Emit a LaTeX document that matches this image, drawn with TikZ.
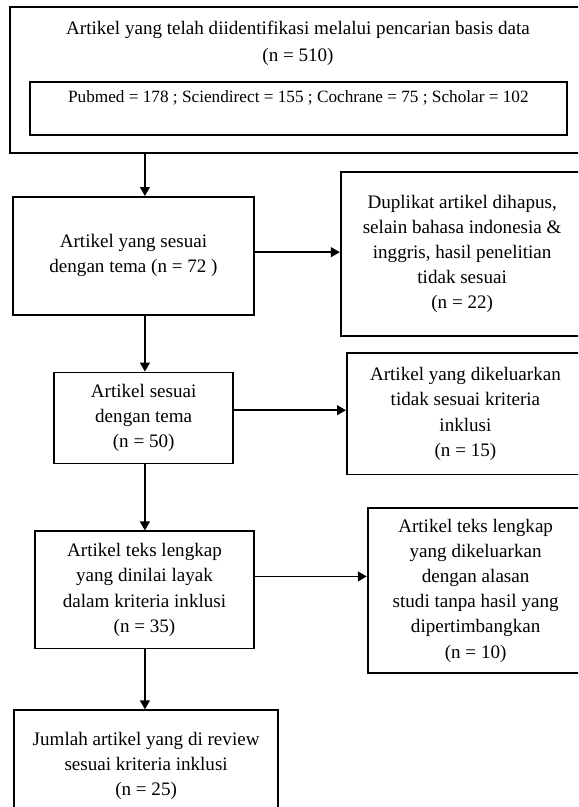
\documentclass[tikz,border=0pt]{standalone}
\usepackage{fontspec}
\setmainfont{Liberation Serif}
\usetikzlibrary{arrows.meta, positioning, calc}

\begin{document}
\begin{tikzpicture}[
  flowbox/.style={
    draw=black, fill=white,
    font=\fontsize{13.3}{17.5}\selectfont,
    align=center, inner sep=2pt,
    line width=1.2pt
  },
  plaintext/.style={
    font=\fontsize{13.3}{18.5}\selectfont,
    align=center, inner sep=0pt
  },
  arr/.style={-{Triangle[length=0.22cm, width=0.24cm]}, line width=1.2pt},
  node distance=1.2cm
]

\useasboundingbox (0,0) rectangle (14.16,-19.77);
\clip (0,0) rectangle (14.16,-19.77);
\coordinate (spine) at (3.55,0);

%% ═══ IDENTIFIKASI ═══
\node[flowbox, minimum width=14.14cm, minimum height=3.58cm] (search) at (7.31,-1.96) {};

\node[plaintext] (title) at (7.30,-1.06)
  {Artikel yang telah diidentifikasi melalui pencarian basis data\\
   (n = 510)};

\node[flowbox, font=\fontsize{12}{17.5}\selectfont,
      minimum width=13.16cm, minimum height=1.30cm,
      above=0.44cm of search.south] (dbbox)
  {Pubmed = 178 ; Sciendirect = 155 ; Cochrane = 75 ; Scholar = 102\\[-6pt] \strut};

%% ═══ SKRINING ═══
\node[flowbox, minimum width=5.91cm, minimum height=2.89cm,
      below=1.03cm of search, xshift=-4.04cm] (tema)
  {Artikel yang sesuai\\
   dengan tema (n = 72 )};
\draw[arr] (search.south -| spine) -- (tema.north -| spine);

\node[flowbox, minimum width=5.95cm, minimum height=4.02cm,
      right=2.08cm of tema, yshift=0.05cm] (dup)
  {Duplikat artikel dihapus,\\
   selain bahasa indonesia \&\\
   inggris, hasil penelitian\\
   tidak sesuai\\
   (n = 22)};
\draw[arr] ($(tema.east)+(0,0.09)$) -- ($(tema.east -| dup.west)+(0,0.09)$);

%% ═══ KELAYAKAN ═══
\node[flowbox, minimum width=4.39cm, minimum height=2.23cm,
      below=1.37cm of tema, xshift=0.25cm] (sesuai)
  {Artikel sesuai\\
   dengan tema\\
   (n = 50)};
\draw[arr] (tema.south -| spine) -- (sesuai.north -| spine);

\node[flowbox, minimum width=5.81cm, minimum height=2.97cm,
      right=2.74cm of sesuai, yshift=0.1cm] (excl1)
  {Artikel yang dikeluarkan\\
   tidak sesuai kriteria\\
   inklusi\\
   (n = 15)};
\draw[arr] ($(sesuai.east)+(0,0.19)$) -- ($(sesuai.east -| excl1.west)+(0,0.19)$);

\node[flowbox, minimum width=5.37cm, minimum height=2.87cm,
      below=1.62cm of sesuai, xshift=0.02cm] (full)
  {Artikel teks lengkap\\
   yang dinilai layak\\
   dalam kriteria inklusi\\
   (n = 35)};
\draw[arr] (sesuai.south -| spine) -- (full.north -| spine);

\node[flowbox, minimum width=5.29cm, minimum height=4.04cm,
      right=2.74cm of full, yshift=-0.02cm] (excl2)
  {Artikel teks lengkap\\
   yang dikeluarkan\\
   dengan alasan\\
   studi tanpa hasil yang\\
   dipertimbangkan\\
   (n = 10)};
\draw[arr] ($(full.east)+(0,0.33)$) -- ($(full.east -| excl2.west)+(0,0.33)$);

%% ═══ INKLUSI ═══
\node[flowbox, minimum width=6.47cm, minimum height=2.74cm,
      below=1.47cm of full, xshift=0.04cm] (final)
  {Jumlah artikel yang di review\\
   sesuai kriteria inklusi\\
   (n = 25)};
\draw[arr] (full.south -| spine) -- (final.north -| spine);

\end{tikzpicture}
\end{document}
